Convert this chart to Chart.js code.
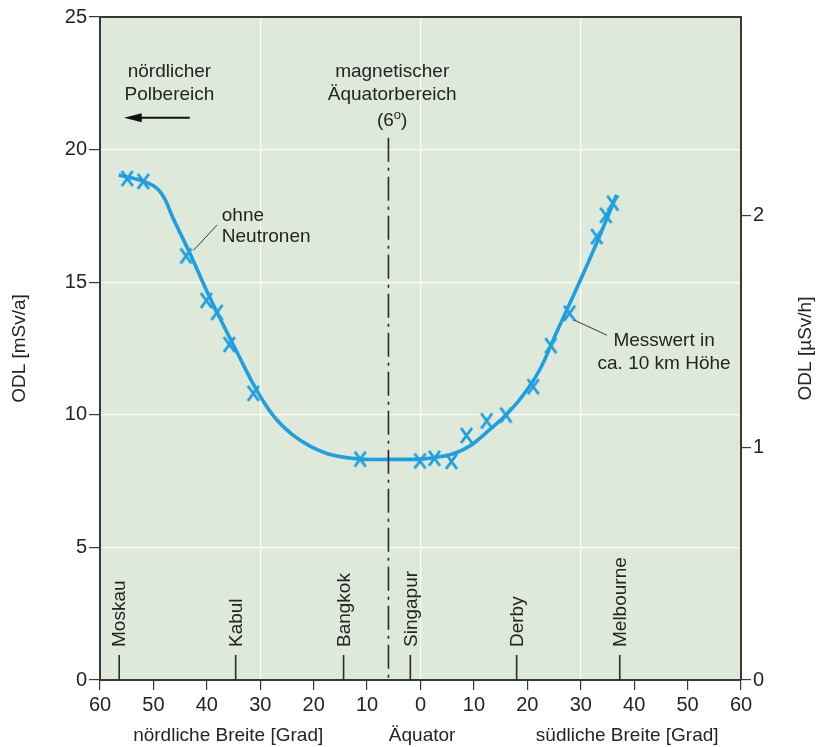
<!DOCTYPE html>
<html>
<head>
<meta charset="utf-8">
<script src="https://cdn.jsdelivr.net/npm/chart.js@4/dist/chart.umd.min.js"></script>
<style>
  html, body { margin: 0; padding: 0; background: #ffffff; }
  #wrap { width: 819px; height: 747px; }
</style>
</head>
<body>
<div id="wrap"><canvas id="c" width="819" height="747"></canvas></div>
<script>
// Latitude in degrees: negative = northern, positive = southern hemisphere.
// Dose rate ODL in mSv/a.

// Measured values at approx. 10 km altitude
const measuredLat  = [-54.9, -51.9, -43.9, -40.1, -38.1, -35.8, -31.3, -11.3, -0.1, 2.6, 5.8, 8.6, 12.4, 16.0, 21.1, 24.4, 27.9, 33.0, 34.7, 36.0];
const measuredDose = [18.91, 18.80, 15.99, 14.31, 13.86, 12.65, 10.81, 8.33, 8.26, 8.36, 8.24, 9.22, 9.77, 9.99, 11.06, 12.61, 13.83, 16.72, 17.52, 17.98];

// Smoothed course (without neutrons)
const curveLat  = [-56.5, -52.0, -49.4, -47.9, -46.4, -43.2, -40.1, -37.1, -33.9, -30.7, -27.5, -24.0, -20.5, -16.5, -11.4, -5.8, -0.2, 3.0, 6.0, 9.2, 12.9, 16.1, 19.1, 22.3, 25.5, 28.5, 31.6, 34.8, 36.7];
const curveDose = [19.04, 18.82, 18.55, 18.15, 17.45, 16.10, 14.71, 13.46, 12.18, 10.94, 9.95, 9.25, 8.80, 8.48, 8.33, 8.32, 8.33, 8.40, 8.52, 8.82, 9.43, 10.01, 10.71, 11.69, 13.12, 14.44, 15.84, 17.35, 18.29];

// Reference cities along the flight route
const cityNames = ['Moskau', 'Kabul', 'Bangkok', 'Singapur', 'Derby', 'Melbourne'];
const cityLat   = [-56.4, -34.6, -14.4, -1.9, 18.0, 37.3];

// Magnetic equator (6° north)
const magEquatorLat = -6;

// Axis ranges and tick steps
const latRange   = [-60, 60];
const latStep    = 10;
const doseRange  = [0, 25];
const doseStep   = 5;
const hoursPerYear = 8760;           // mSv/a -> µSv/h
const rateStep   = 1;

const BLUE = '#1d9fe0';
const INK  = '#242424';
const AXIS = '#383838';
const FONT = '"Liberation Sans", Arial, Helvetica, sans-serif';
Chart.defaults.font.family = FONT;

// tall "x" marker
function makeCross() {
  const cv = document.createElement('canvas');
  cv.width = 15; cv.height = 19;
  const g = cv.getContext('2d');
  g.strokeStyle = BLUE;
  g.lineWidth = 2.8;
  g.lineCap = 'butt';
  g.beginPath();
  g.moveTo(2, 2);  g.lineTo(13, 17);
  g.moveTo(13, 2); g.lineTo(2, 17);
  g.stroke();
  return cv;
}
const crossMarker = makeCross();

const curveData = curveLat.map((x, i) => ({ x, y: curveDose[i] }));
const measuredData = measuredLat.map((x, i) => ({ x, y: measuredDose[i] }));

const decorations = {
  id: 'decorations',
  beforeDraw(chart) {
    const { ctx, chartArea: a } = chart;
    ctx.save();
    ctx.fillStyle = '#dee9d9';
    ctx.fillRect(a.left, a.top, a.right - a.left, a.bottom - a.top);
    ctx.restore();
  },
  afterDraw(chart) {
    const { ctx, chartArea: a, scales } = chart;
    const X = v => scales.x.getPixelForValue(v);
    const Y = v => scales.y.getPixelForValue(v);
    ctx.save();

    // frame: top edge
    ctx.strokeStyle = AXIS;
    ctx.lineWidth = 2;
    ctx.beginPath();
    ctx.moveTo(a.left - 1, a.top);
    ctx.lineTo(a.right + 1, a.top);
    ctx.stroke();

    // magnetic equator: dash-dot line
    ctx.strokeStyle = '#2a2a2a';
    ctx.lineWidth = 1.6;
    ctx.setLineDash([24, 6, 3, 6]);
    ctx.beginPath();
    ctx.moveTo(X(magEquatorLat), Y(20.45));
    ctx.lineTo(X(magEquatorLat), a.bottom);
    ctx.stroke();
    ctx.setLineDash([]);

    // city markers and names
    ctx.fillStyle = INK;
    ctx.strokeStyle = '#2a2a2a';
    ctx.lineWidth = 1.6;
    ctx.font = '19px ' + FONT;
    cityNames.forEach((name, i) => {
      const px = X(cityLat[i]);
      ctx.beginPath();
      ctx.moveTo(px, a.bottom - 25);
      ctx.lineTo(px, a.bottom);
      ctx.stroke();
      ctx.save();
      ctx.translate(px + 1, a.bottom - 33);
      ctx.rotate(-Math.PI / 2);
      ctx.textAlign = 'left';
      ctx.textBaseline = 'middle';
      ctx.fillText(name, 0, 0);
      ctx.restore();
    });

    // annotations
    ctx.font = '19px ' + FONT;
    ctx.fillStyle = INK;
    ctx.textBaseline = 'middle';
    ctx.textAlign = 'center';
    ctx.fillText('nördlicher', X(-47.0), Y(22.93));
    ctx.fillText('Polbereich', X(-47.0), Y(22.06));

    // arrow towards the north pole
    const ay = Y(21.2);
    ctx.strokeStyle = '#111';
    ctx.lineWidth = 2;
    ctx.beginPath();
    ctx.moveTo(X(-43.2), ay);
    ctx.lineTo(X(-53.0), ay);
    ctx.stroke();
    ctx.fillStyle = '#111';
    ctx.beginPath();
    ctx.moveTo(X(-55.5), ay);
    ctx.lineTo(X(-52.2), ay - 4.5);
    ctx.lineTo(X(-52.2), ay + 4.5);
    ctx.closePath();
    ctx.fill();

    ctx.fillStyle = INK;
    const mx = X(-5.3);
    ctx.fillText('magnetischer', mx, Y(22.93));
    ctx.fillText('Äquatorbereich', mx, Y(22.06));
    // "(6°)" with raised small o
    const yL3 = Y(21.1);
    const w1 = ctx.measureText('(6').width;
    const w3 = ctx.measureText(')').width;
    ctx.font = '13px ' + FONT;
    const w2 = ctx.measureText('o').width;
    const total = w1 + w2 + w3;
    let sx = mx - total / 2;
    ctx.textAlign = 'left';
    ctx.font = '19px ' + FONT;
    ctx.fillText('(6', sx, yL3);
    ctx.font = '13px ' + FONT;
    ctx.fillText('o', sx + w1, yL3 - 5);
    ctx.font = '19px ' + FONT;
    ctx.fillText(')', sx + w1 + w2, yL3);

    // label for the fitted curve
    ctx.textAlign = 'left';
    ctx.fillText('ohne', X(-37.2), Y(17.5));
    ctx.fillText('Neutronen', X(-37.2), Y(16.7));
    ctx.strokeStyle = '#3a3a3a';
    ctx.lineWidth = 1;
    ctx.beginPath();
    ctx.moveTo(X(-42.5), Y(16.2));
    ctx.lineTo(X(-38.1), Y(17.15));
    ctx.stroke();

    // label for the measurements
    ctx.textAlign = 'center';
    ctx.fillText('Messwert in', X(45.6), Y(12.78));
    ctx.fillText('ca. 10 km Höhe', X(45.6), Y(11.92));
    ctx.beginPath();
    ctx.moveTo(X(28.8), Y(13.57));
    ctx.lineTo(X(34.9), Y(13.0));
    ctx.stroke();

    // axis titles
    ctx.fillStyle = INK;
    ctx.font = '19px ' + FONT;
    ctx.textAlign = 'center';
    ctx.textBaseline = 'middle';
    const by = 736;
    ctx.fillText('nördliche Breite [Grad]', X(-36.0), by);
    ctx.fillText('Äquator', X(0.3), by);
    ctx.fillText('südliche Breite [Grad]', X(38.7), by);

    const midY = (a.top + a.bottom) / 2;
    ctx.save();
    ctx.translate(20, midY);
    ctx.rotate(-Math.PI / 2);
    ctx.fillText('ODL [mSv/a]', 0, 0);
    ctx.restore();
    ctx.save();
    ctx.translate(806, midY);
    ctx.rotate(-Math.PI / 2);
    ctx.fillText('ODL [µSv/h]', 0, 0);
    ctx.restore();

    ctx.restore();
  }
};

new Chart(document.getElementById('c'), {
  type: 'scatter',
  data: {
    datasets: [
      {
        label: 'ohne Neutronen',
        type: 'line',
        data: curveData,
        borderColor: BLUE,
        borderWidth: 3.6,
        pointRadius: 0,
        fill: false,
        tension: 0.35,
        yAxisID: 'y'
      },
      {
        label: 'Messwert in ca. 10 km Höhe',
        data: measuredData,
        showLine: false,
        pointStyle: crossMarker,
        pointRadius: 8,
        yAxisID: 'y'
      }
    ]
  },
  options: {
    responsive: false,
    animation: false,
    devicePixelRatio: 1,
    layout: { padding: { top: 17, left: 0, right: 0, bottom: 0 } },
    plugins: {
      legend: { display: false },
      tooltip: { enabled: false }
    },
    scales: {
      x: {
        type: 'linear',
        min: latRange[0],
        max: latRange[1],
        ticks: {
          stepSize: latStep,
          callback: v => String(Math.abs(v)),
          color: INK,
          font: { size: 20 },
          padding: 3,
          maxRotation: 0,
          autoSkip: false
        },
        grid: {
          color: c => (c.tick && Math.abs(c.tick.value) % 30 === 0) ? 'rgba(255,255,255,0.9)' : 'rgba(0,0,0,0)',
          tickColor: AXIS,
          tickLength: 10,
          lineWidth: 1.2
        },
        border: { color: AXIS, width: 2 },
        afterFit: s => { s.height = 67; }
      },
      y: {
        position: 'left',
        min: doseRange[0],
        max: doseRange[1],
        ticks: {
          stepSize: doseStep,
          color: INK,
          font: { size: 20 },
          padding: 2
        },
        grid: {
          color: 'rgba(255,255,255,0.9)',
          tickColor: AXIS,
          tickLength: 11,
          lineWidth: 1.2
        },
        border: { color: AXIS, width: 2 },
        afterFit: s => { s.width = 100; }
      },
      y2: {
        position: 'right',
        min: doseRange[0] / (hoursPerYear / 1000),
        max: doseRange[1] / (hoursPerYear / 1000),
        ticks: {
          stepSize: rateStep,
          includeBounds: false,
          callback: v => Number.isInteger(v) ? String(v) : '',
          color: INK,
          font: { size: 20 },
          padding: 2
        },
        grid: {
          drawOnChartArea: false,
          tickColor: AXIS,
          tickLength: 10,
          lineWidth: 1.2
        },
        border: { color: AXIS, width: 2 },
        afterFit: s => { s.width = 78; }
      }
    }
  },
  plugins: [decorations]
});
</script>
</body>
</html>
